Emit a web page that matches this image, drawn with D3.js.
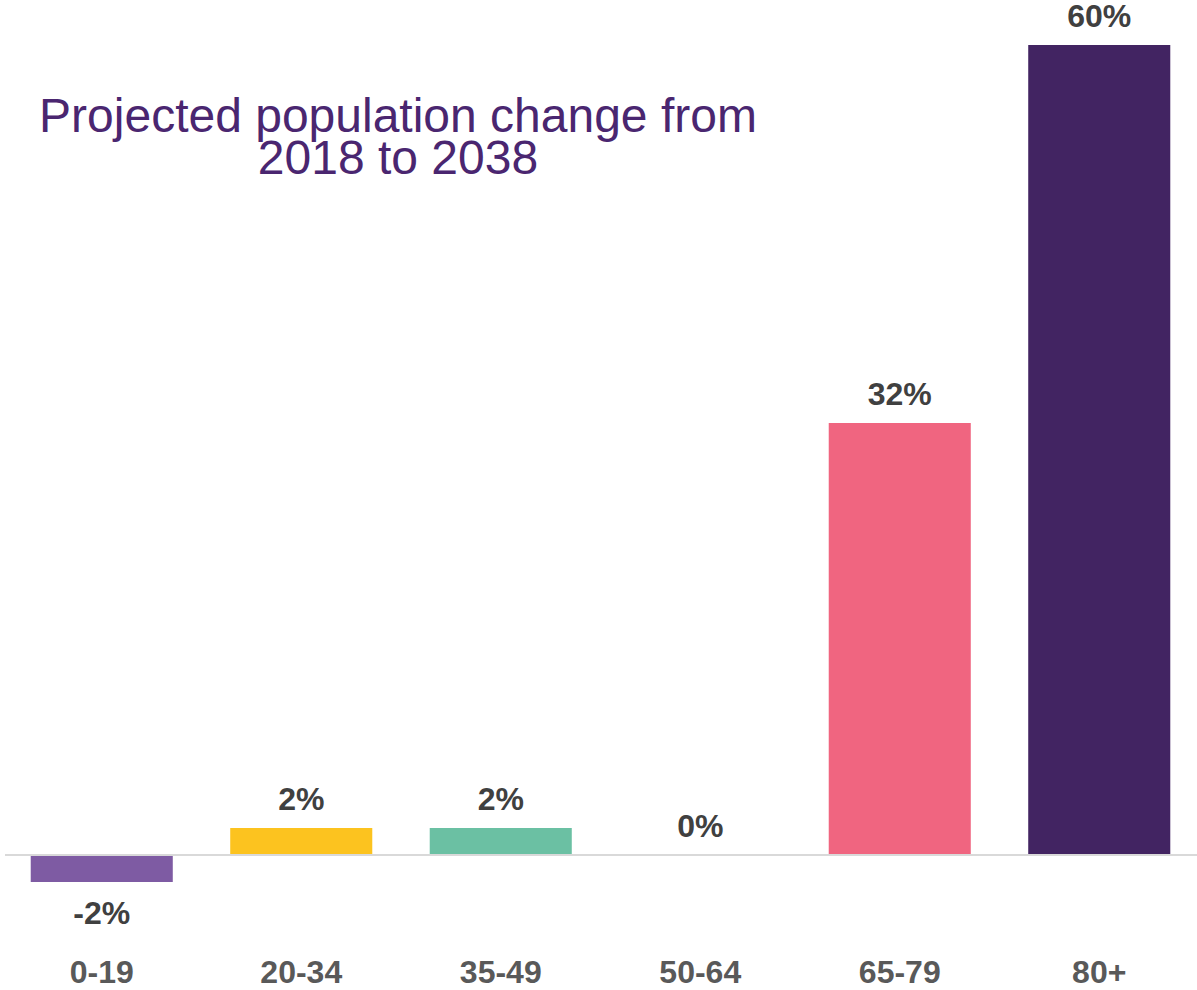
<!DOCTYPE html>
<html>
<head>
<meta charset="utf-8">
<script src="https://cdn.jsdelivr.net/npm/d3@7"></script>
<style>
  html, body { margin: 0; padding: 0; background: #ffffff; }
  svg { display: block; font-family: "Liberation Sans", Arial, sans-serif; }
</style>
</head>
<body>
<svg id="chart" width="1197" height="990"></svg>
<script>
// Age groups and projected % change, 2018 -> 2038
const ageGroups = ["0-19", "20-34", "35-49", "50-64", "65-79", "80+"];
const changePct = [-2, 2, 2, 0, 32, 60];
const barColors = ["#7E5BA3", "#FCC31F", "#6BC0A3", "#9E9E9E", "#F06580", "#422462"];
const titleLines = ["Projected population change from", "2018 to 2038"];

const svg = d3.select("#chart");

const x = d3.scaleBand()
  .domain(ageGroups)
  .range([2, 1199])
  .paddingInner(0.288)
  .paddingOuter(0.144);

const y = d3.scaleLinear()
  .domain([0, 60])
  .range([855, 45]);

// bars
svg.append("g").selectAll("rect")
  .data(ageGroups)
  .join("rect")
  .attr("x", d => x(d))
  .attr("width", x.bandwidth())
  .attr("y", (d, i) => Math.min(y(changePct[i]), y(0)))
  .attr("height", (d, i) => Math.abs(y(changePct[i]) - y(0)))
  .attr("fill", (d, i) => barColors[i]);

// zero baseline
svg.append("line")
  .attr("x1", 5).attr("x2", 1197)
  .attr("y1", y(0)).attr("y2", y(0))
  .attr("stroke", "#d9d9d9")
  .attr("stroke-width", 2);

// value labels
svg.append("g").selectAll("text")
  .data(ageGroups)
  .join("text")
  .attr("x", d => x(d) + x.bandwidth() / 2)
  .attr("y", (d, i) => changePct[i] < 0 ? y(changePct[i]) + 42 : y(changePct[i]) - 18)
  .attr("text-anchor", "middle")
  .attr("font-size", 32)
  .attr("font-weight", "bold")
  .attr("fill", "#404040")
  .text((d, i) => changePct[i] + "%");

// category axis
const xAxis = svg.append("g")
  .attr("transform", "translate(0,983)")
  .call(d3.axisBottom(x).tickSize(0).tickPadding(0));
xAxis.select(".domain").remove();
xAxis.selectAll("text")
  .attr("dy", 0)
  .attr("font-size", 32)
  .attr("font-weight", "bold")
  .attr("fill", "#595959")
  .attr("font-family", "'Liberation Sans', Arial, sans-serif");

// title
svg.append("text")
  .attr("text-anchor", "middle")
  .attr("font-size", 48)
  .attr("fill", "#4A2670")
  .selectAll("tspan")
  .data(titleLines)
  .join("tspan")
  .attr("x", 398)
  .attr("y", (d, i) => 132 + i * 42)
  .text(d => d);
</script>
</body>
</html>
